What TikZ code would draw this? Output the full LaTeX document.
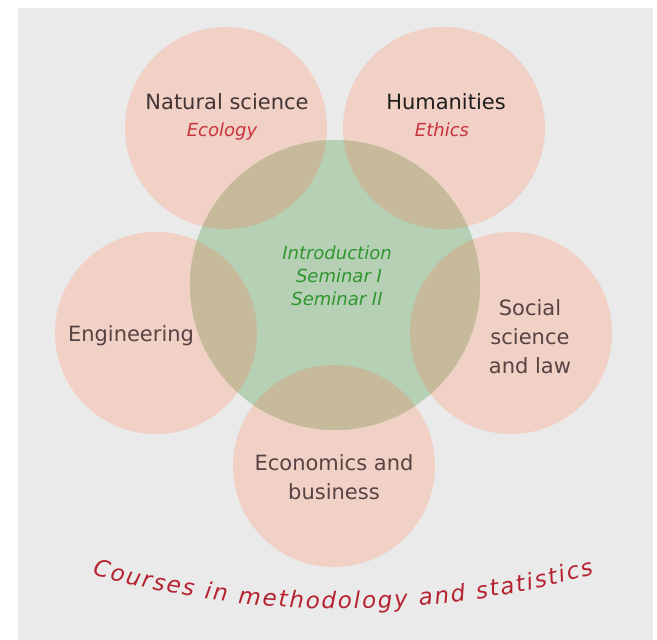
\documentclass[tikz,border=0pt]{standalone}
\usepackage{fontspec}
\setmainfont{DejaVu Sans}
\usetikzlibrary{decorations.text}
\definecolor{bggray}{HTML}{EAEAEA}
\definecolor{pinkc}{HTML}{F1D0C5}
\definecolor{greenc}{HTML}{B5D0B4}
\definecolor{ovlc}{HTML}{C7BA9B}
\definecolor{labbrown}{HTML}{574343}
\definecolor{labdark}{HTML}{433535}
\definecolor{labblack}{HTML}{1E1E1E}
\definecolor{subred}{HTML}{C8323C}
\definecolor{coregreen}{HTML}{2F962F}
\definecolor{crsred}{HTML}{B52330}
\tikzset{
  petal/.style={circle, minimum size=202pt, inner sep=0pt, fill=pinkc},
  corec/.style={circle, minimum size=290pt, inner sep=0pt, fill=greenc},
  lab/.style={anchor=base, inner sep=0pt, font=\fontsize{21}{21}\selectfont, text=labbrown},
  sublab/.style={anchor=base, inner sep=0pt, font=\fontsize{18}{18}\selectfont\itshape, text=subred},
  corelab/.style={anchor=base, inner sep=0pt, font=\fontsize{18}{18}\selectfont\itshape, text=coregreen}
}
\begin{document}
\begin{tikzpicture}[x=1pt,y=-1pt]
\useasboundingbox (0,0) rectangle (657,640);
\fill[white] (0,0) rectangle (657,640);
\fill[bggray] (18,8) rectangle (653,640);
% petals
\node[petal] (ns) at (226,128) {};
\node[petal] (hum) at (444,128) {};
\node[petal] (eng) at (156,333) {};
\node[petal] (soc) at (511,333) {};
\node[petal] (eco) at (334,466) {};
% core
\node[corec] (core) at (335,285) {};
\begin{scope}
  \clip (core.center) circle[radius=145pt];
  \foreach \p in {ns,hum,eng,soc,eco}
    \fill[ovlc] (\p.center) circle[radius=101pt];
\end{scope}
% labels
\node[lab, text=labdark] (nsl) at (227,109) {Natural science};
\node[sublab] (nss) at (222,136) {Ecology};
\node[lab, text=labblack] (huml) at (446,109) {Humanities};
\node[sublab] (hums) at (442,136) {Ethics};
\node[corelab] (c1) at (337,259) {Introduction};
\node[corelab] (c2) at (339,282) {Seminar I};
\node[corelab] (c3) at (337,305) {Seminar II};
\node[lab] (engl) at (131,341) {Engineering};
\node[lab] (soc1) at (530,315) {Social};
\node[lab] (soc2) at (530,344) {science};
\node[lab] (soc3) at (530,373) {and law};
\node[lab] (eco1) at (334,470) {Economics and};
\node[lab] (eco2) at (334,499) {business};
% curved caption
\path[decorate, decoration={text along path, text align=center, text color=crsred,
  text={|\fontsize{23}{23}\selectfont\itshape\kern1.9pt|Courses in methodology and statistics}}]
  (87pt,-573pt) arc[start angle=-106.06, end angle=-73.94, radius=922pt];
\end{tikzpicture}
\end{document}
